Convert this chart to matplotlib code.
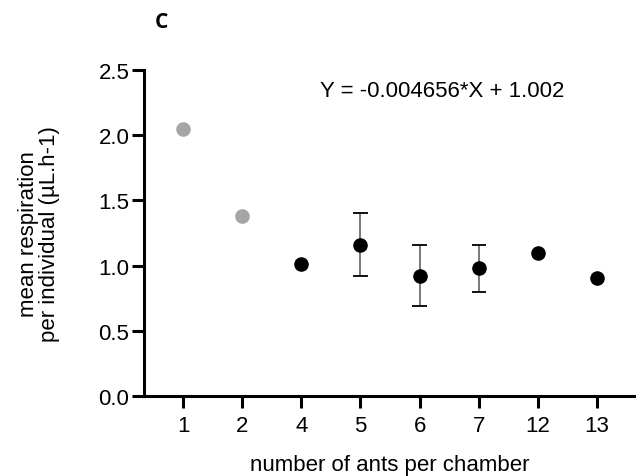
import matplotlib
matplotlib.use("Agg")
import matplotlib.pyplot as plt
import numpy as np

categories = ["1", "2", "4", "5", "6", "7", "12", "13"]
means = [2.05, 1.38, 1.01, 1.16, 0.925, 0.98, 1.10, 0.91]
errors = [0.0, 0.0, 0.0, 0.24, 0.235, 0.18, 0.0, 0.0]
excluded = [True, True, False, False, False, False, False, False]
equation = "Y = -0.004656*X + 1.002"

plt.rcParams['font.family'] = ['Liberation Sans', 'DejaVu Sans']

fig = plt.figure(figsize=(6.36, 4.77), dpi=100)
ax = fig.add_axes([0.2264, 0.1667, 0.7736, 0.6851])

x = np.arange(len(categories))
for xi, m, e, exc in zip(x, means, errors, excluded):
    if e > 0:
        ax.errorbar(xi, m, yerr=e, fmt='none', ecolor='#6e6e6e', elinewidth=1.3,
                    capsize=0, zorder=2)
        for yv in (m - e, m + e):
            ax.plot([xi - 0.12, xi + 0.12], [yv, yv], color='black', lw=1.3,
                    solid_capstyle='butt', zorder=2)
    ax.plot(xi, m, 'o', color='#a5a5a8' if exc else 'black', markersize=10.5,
            markeredgewidth=0, zorder=3)

ax.set_xlim(-0.66, len(categories) - 1 + 0.66)
ax.set_ylim(0, 2.5)
ax.set_xticks(x)
ax.set_xticklabels(categories)
ax.set_yticks([0, 0.5, 1.0, 1.5, 2.0, 2.5])
ax.set_yticklabels(["0.0", "0.5", "1.0", "1.5", "2.0", "2.5"])
ax.tick_params(axis='both', labelsize=16, width=2.2, length=8.5, direction='out', color='black')
ax.tick_params(axis='y', pad=2)
ax.tick_params(axis='x', pad=5)
for s in ['top', 'right']:
    ax.spines[s].set_visible(False)
for s in ['left', 'bottom']:
    ax.spines[s].set_linewidth(2.2)

ax.set_xlabel("number of ants per chamber", fontsize=16, labelpad=13)
ax.set_ylabel("mean respiration\nper individual (µL.h-1)", fontsize=16, labelpad=28,
              linespacing=0.95)

ax.text(0.606, 0.936, equation, transform=ax.transAxes, fontsize=16, ha='center', va='center')
fig.text(161 / 636, 1 - 23 / 477, "C", fontsize=15, fontweight='bold',
         family=['Open Sans', 'DejaVu Sans'], ha='center', va='center')

fig.savefig("out.png", dpi=100)
